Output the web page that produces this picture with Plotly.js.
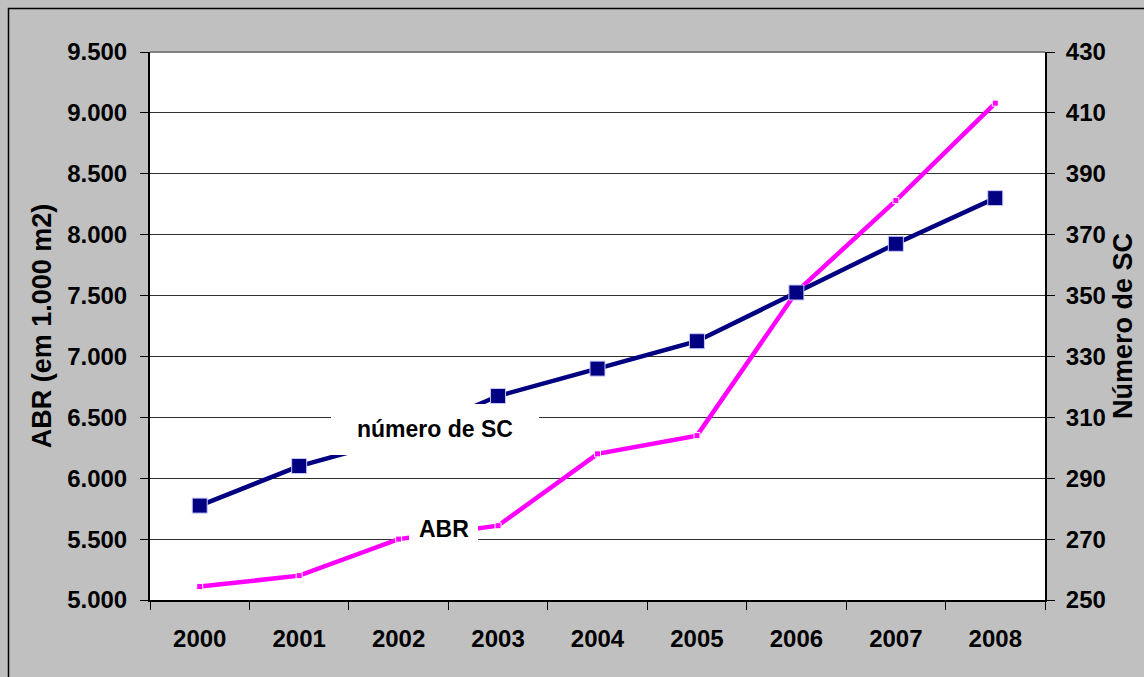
<!DOCTYPE html>
<html>
<head>
<meta charset="utf-8">
<script src="https://cdn.plot.ly/plotly-3.0.1.min.js"></script>
<style>
  html, body { margin: 0; padding: 0; background: #c0c0c0; }
  #chart { width: 1144px; height: 677px; }
</style>
</head>
<body>
<div id="chart"></div>
<script>
// Shopping centres in Brazil: gross leasable area and number of centres
const years = ['2000', '2001', '2002', '2003', '2004', '2005', '2006', '2007', '2008'];
const abr = [5110, 5200, 5500, 5610, 6200, 6350, 7530, 8280, 9080];      // ABR, em 1.000 m2
const numeroSC = [281, 294, 303, 317, 326, 335, 351, 367, 382];          // número de shopping centers

// plot-area frame in pixels
const PL = 150, PR = 1045, PT = 52, PB = 600;
const W = 1144, H = 677;
const px = v => (v - PL) / (PR - PL);
const py = v => (PB - v) / (PB - PT);

const FONT = 'Liberation Sans, Arial, sans-serif';

const traceABR = {
  x: years, y: abr, yaxis: 'y', type: 'scatter', mode: 'lines+markers',
  name: 'ABR',
  line: { color: '#ff00ff', width: 4.5 },
  marker: { symbol: 'square', size: 6, color: '#ff00ff', line: { color: '#ffffff', width: 1 } },
  cliponaxis: false
};

const traceSC = {
  x: years, y: numeroSC, yaxis: 'y2', type: 'scatter', mode: 'lines+markers',
  name: 'número de SC',
  line: { color: '#000080', width: 4.5 },
  marker: { symbol: 'square', size: 15, color: '#000080', line: { color: '#c8c8ff', width: 1 } },
  cliponaxis: false
};

const tickFont = { family: FONT, size: 24, color: '#000000', weight: 'bold' };
const titleFont = { family: FONT, size: 27, color: '#000000', weight: 'bold' };
const labelFont = { family: FONT, size: 23, color: '#000000', weight: 'bold' };

const layout = {
  width: W, height: H,
  margin: { l: PL, r: W - PR, t: PT, b: H - PB, pad: 0 },
  paper_bgcolor: '#c0c0c0',
  plot_bgcolor: '#ffffff',
  separators: ',.',
  showlegend: false,
  xaxis: {
    type: 'category',
    range: [-0.5, 8.5],
    tickson: 'boundaries',
    ticks: 'outside', ticklen: 8, tickwidth: 1, tickcolor: '#000000',
    showgrid: false, zeroline: false,
    showline: true, linecolor: '#000000', linewidth: 2,
    tickfont: tickFont,
    ticklabelstandoff: 16
  },
  yaxis: {
    range: [5000, 9500], dtick: 500, tick0: 5000,
    tickformat: ',d',
    ticks: 'outside', ticklen: 8, tickwidth: 1, tickcolor: '#000000',
    showgrid: true, gridcolor: '#303030', gridwidth: 1,
    zeroline: false,
    showline: true, linecolor: '#000000', linewidth: 2,
    tickfont: tickFont,
    ticklabelstandoff: 8,
    title: { text: 'ABR (em 1.000 m2)', font: titleFont, standoff: 8 }
  },
  yaxis2: {
    overlaying: 'y', side: 'right',
    range: [250, 430], dtick: 20, tick0: 250,
    ticks: 'outside', ticklen: 8, tickwidth: 1, tickcolor: '#000000',
    showgrid: false, zeroline: false,
    showline: true, linecolor: '#000000', linewidth: 2,
    tickfont: tickFont,
    ticklabelstandoff: 6,
    title: { text: 'Número de SC', font: titleFont, standoff: 8 }
  },
  shapes: [
    // outer frame of the chart area
    { type: 'rect', xref: 'paper', yref: 'paper', layer: 'below',
      x0: px(8.5), x1: px(1160), y0: py(8.5), y1: py(700),
      line: { color: '#000000', width: 1.5 }, fillcolor: 'rgba(0,0,0,0)' },
    // top edge of plot area
    { type: 'line', xref: 'paper', yref: 'paper', layer: 'above',
      x0: 0, x1: 1, y0: 1, y1: 1, line: { color: '#808080', width: 2 } },
    // white label boxes behind the series names
    { type: 'rect', xref: 'paper', yref: 'paper', layer: 'above',
      x0: px(331), x1: px(539), y0: py(404), y1: py(455),
      line: { width: 0 }, fillcolor: '#ffffff' },
    { type: 'rect', xref: 'paper', yref: 'paper', layer: 'above',
      x0: px(409), x1: px(478), y0: py(515), y1: py(545),
      line: { width: 0 }, fillcolor: '#ffffff' }
  ],
  annotations: [
    { xref: 'paper', yref: 'paper', x: px(435), y: py(429), text: 'número de SC',
      showarrow: false, xanchor: 'center', yanchor: 'middle', font: labelFont },
    { xref: 'paper', yref: 'paper', x: px(444), y: py(529), text: 'ABR',
      showarrow: false, xanchor: 'center', yanchor: 'middle', font: labelFont }
  ]
};

Plotly.newPlot('chart', [traceABR, traceSC], layout, { displayModeBar: false, staticPlot: true });
</script>
</body>
</html>
